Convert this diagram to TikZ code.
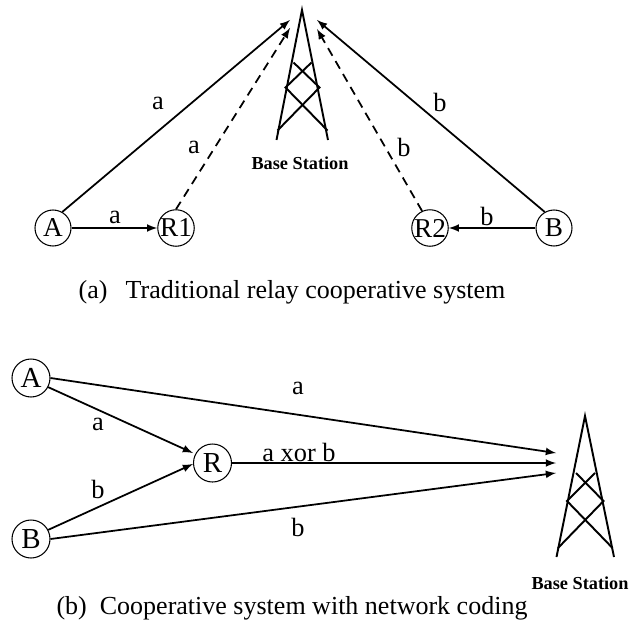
\documentclass[tikz,border=0pt]{standalone}
\usepackage{fontspec}
\setmainfont{Liberation Serif}
\usepackage{tikz}
\tikzset{
  station/.style={circle,draw,line width=0.6pt,inner sep=0pt,minimum size=0.72cm,font=\fontsize{15.5}{15.5}\selectfont},
  bigstation/.style={station,minimum size=0.76cm,font=\fontsize{16.5}{16.5}\selectfont},
  link/.style={->,>=latex,line width=1pt},
  relaylink/.style={link,dashed,dash pattern=on 5pt off 3.5pt},
  tower/.style={line width=1.1pt},
  linklabel/.style={font=\fontsize{15}{15}\selectfont},
  towerlabel/.style={font=\fontsize{10.4}{10.4}\selectfont\bfseries},
  caption/.style={font=\fontsize{14.8}{14.8}\selectfont}
}
\begin{document}
\begin{tikzpicture}
\useasboundingbox (0,0) rectangle (12.68,12.46);
% traditional relay system
\node[station] (A) at (1.06,7.9) {A};
\node[station] (R1) at (3.52,7.9) {R1};
\node[station] (R2) at (8.6,7.9) {R2};
\node[station] (B) at (11.08,7.9) {B};
\coordinate (Aend) at (5.8,12.06);
\coordinate (R1end) at (5.8,11.9);
\coordinate (Bend) at (6.34,12.06);
\coordinate (R2end) at (6.34,11.88);
\draw[link] (A.60) -- (Aend);
\draw[link] (A) -- (R1);
\draw[relaylink] (R1.north) -- (R1end);
\draw[relaylink] (R2.115) -- (R2end);
\draw[link] (B) -- (R2);
\draw[link] (B.120) -- (Bend);
\draw[tower] (5.53,9.66) -- (6.04,12.26) -- (6.56,9.66);
\draw[tower] (6.23,11.21) -- (5.71,10.71) -- (6.55,9.85);
\draw[tower] (5.87,11.21) -- (6.39,10.71) -- (5.55,9.85);
\node[towerlabel] (bs1) at (6.0,9.2) {Base Station};
\node[linklabel] (l1) at (3.16,10.4) {a};
\node[linklabel] (l2) at (3.88,9.52) {a};
\node[linklabel] (l3) at (2.3,8.12) {a};
\node[linklabel] (l4) at (8.8,10.42) {b};
\node[linklabel] (l5) at (8.08,9.52) {b};
\node[linklabel] (l6) at (9.74,8.14) {b};
\node[caption] (capa) at (5.84,6.62) {(a)\hspace{0.7em}Traditional relay cooperative system};
% network coding system
\node[bigstation] (A2) at (0.62,4.9) {A};
\node[bigstation] (B2) at (0.62,1.68) {B};
\node[bigstation] (R) at (4.25,3.2) {R};
\coordinate (A2end) at (11.12,3.4);
\coordinate (Rend) at (11.12,3.2);
\coordinate (B2end) at (11.12,3.0);
\coordinate (RA) at (3.86,3.4);
\coordinate (RB) at (3.86,3.18);
\draw[link] (A2.east) -- (A2end);
\draw[link] (A2.-28) -- (RA);
\draw[link] (R) -- (Rend);
\draw[link] (B2.28) -- (RB);
\draw[link] (B2.east) -- (B2end);
\draw[tower] (11.13,1.32) -- (11.7,4.14) -- (12.28,1.32);
\draw[tower] (11.9,3.0) -- (11.34,2.44) -- (12.25,1.5);
\draw[tower] (11.52,3.0) -- (12.07,2.44) -- (11.16,1.5);
\node[towerlabel] (bs2) at (11.6,0.8) {Base Station};
\node[linklabel] (m1) at (5.96,4.7) {a};
\node[linklabel] (m2) at (1.96,3.98) {a};
\node[linklabel] (m3) at (5.98,3.42) {a xor b};
\node[linklabel] (m4) at (1.96,2.68) {b};
\node[linklabel] (m5) at (5.96,1.92) {b};
\node[caption] (capb) at (5.84,0.3) {(b)\hspace{0.5em}Cooperative system with network coding};
\end{tikzpicture}
\end{document}
